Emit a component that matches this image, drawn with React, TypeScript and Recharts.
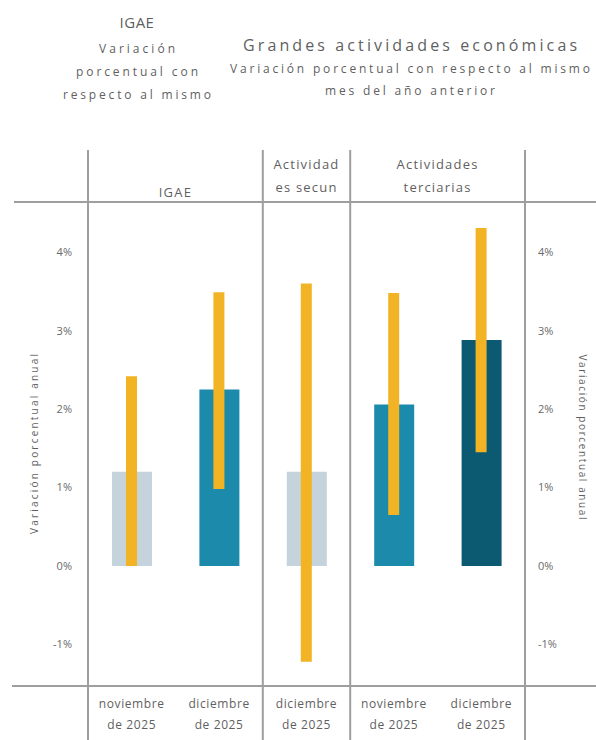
import React from 'react';
import { BarChart, Bar, XAxis, YAxis, Cell } from 'recharts';

// categories (bottom labels) and group headers
const periods = ['noviembre|de 2025', 'diciembre|de 2025', 'diciembre|de 2025', 'noviembre|de 2025', 'diciembre|de 2025'];
const groups = ['IGAE', 'Actividad|es secun', 'Actividades|terciarias'];
const groupSizes = [2, 1, 2];

// annual % change (bars) and range of the monthly series (orange)
const values = [1.2, 2.25, 1.2, 2.06, 2.88];
const rangeLow = [0.0, 0.98, -1.22, 0.65, 1.45];
const rangeHigh = [2.42, 3.49, 3.6, 3.48, 4.31];
const barColors = ['#c4d3dc', '#1b8aab', '#c4d3dc', '#1b8aab', '#0b5a72'];

const yTicks = [-1, 0, 1, 2, 3, 4];

const data = periods.map((p, i) => ({
  idx: i,
  value: values[i],
  range: [rangeLow[i], rangeHigh[i]],
}));

const W = 596;
const H = 740;
const LEFT = 88;
const RIGHT = 525;
const TOP = 202;
const BOTTOM = 686;
const FONT = '"Open Sans", sans-serif';
const GRAY = '#5f5f5f';
const LINE = '#9e9e9e';
const ORANGE = '#f2b425';

const PeriodTick = (props: any) => {
  const { x, payload } = props;
  const [a, b] = periods[payload.value].split('|');
  return (
    <g>
      <text x={x} y={BOTTOM + 22} textAnchor="middle" fontSize={12} fill={GRAY} fontFamily={FONT} letterSpacing={0.6}>{a}</text>
      <text x={x} y={BOTTOM + 43} textAnchor="middle" fontSize={12} fill={GRAY} fontFamily={FONT} letterSpacing={0.6}>{b}</text>
    </g>
  );
};

function Frame() {
  const band = (RIGHT - LEFT) / periods.length;
  let start = 0;
  const heads = groups.map((g, i) => {
    const x0 = LEFT + start * band;
    const x1 = x0 + groupSizes[i] * band;
    start += groupSizes[i];
    const lines = g.split('|');
    const cx = (x0 + x1) / 2;
    return (
      <g key={i}>
        {lines.length === 1 ? (
          <text x={cx} y={197} textAnchor="middle" fontSize={13} fill={GRAY} fontFamily={FONT} letterSpacing={1.2}>{lines[0]}</text>
        ) : (
          lines.map((t, j) => (
            <text key={j} x={cx} y={169 + j * 23} textAnchor="middle" fontSize={13} fill={GRAY} fontFamily={FONT} letterSpacing={1.2}>{t}</text>
          ))
        )}
      </g>
    );
  });
  const dividers = [LEFT, LEFT + 2 * band, LEFT + 3 * band, RIGHT];
  return (
    <svg width={W} height={H} style={{ position: 'absolute', left: 0, top: 0, pointerEvents: 'none' }}>
      {/* titles */}
      <text x={137} y={28} textAnchor="middle" fontSize={15} fill={GRAY} fontFamily={FONT} letterSpacing={0.5}>IGAE</text>
      <text x={137} y={53} textAnchor="middle" fontSize={12} fill={GRAY} fontFamily={FONT} textLength={76} lengthAdjust="spacing">Variación</text>
      <text x={137} y={76} textAnchor="middle" fontSize={12} fill={GRAY} fontFamily={FONT} textLength={122} lengthAdjust="spacing">porcentual con</text>
      <text x={137} y={99} textAnchor="middle" fontSize={12} fill={GRAY} fontFamily={FONT} textLength={148} lengthAdjust="spacing">respecto al mismo</text>
      <text x={410} y={51} textAnchor="middle" fontSize={16} fill={GRAY} fontFamily={FONT} textLength={334} lengthAdjust="spacing">Grandes actividades económicas</text>
      <text x={410} y={73} textAnchor="middle" fontSize={12} fill={GRAY} fontFamily={FONT} textLength={360} lengthAdjust="spacing">Variación porcentual con respecto al mismo</text>
      <text x={410} y={95} textAnchor="middle" fontSize={12} fill={GRAY} fontFamily={FONT} textLength={170} lengthAdjust="spacing">mes del año anterior</text>
      {/* axis titles */}
      <text transform="translate(38,444) rotate(-90)" textAnchor="middle" fontSize={10} fill={GRAY} fontFamily={FONT} textLength={180} lengthAdjust="spacing">Variación porcentual anual</text>
      <text transform="translate(579,437) rotate(90)" textAnchor="middle" fontSize={10} fill={GRAY} fontFamily={FONT} textLength={165} lengthAdjust="spacing">Variación porcentual anual</text>
      {/* frame lines */}
      <line x1={14} x2={W} y1={TOP} y2={TOP} stroke={LINE} strokeWidth={2} />
      <line x1={12} x2={W} y1={BOTTOM} y2={BOTTOM} stroke={LINE} strokeWidth={2} />
      {dividers.map((x, i) => (
        <line key={i} x1={x} x2={x} y1={150} y2={H} stroke={LINE} strokeWidth={2} />
      ))}
      {heads}
    </svg>
  );
}

export default function App() {
  return (
    <div style={{ position: 'relative', width: W, height: H, background: '#fff' }}>
      <style>{`body{margin:0}`}</style>
      <BarChart
        width={W}
        height={H}
        data={data}
        margin={{ top: TOP, bottom: 0, left: LEFT - 40, right: W - RIGHT - 40 }}
        barGap={0}
      >
        <XAxis xAxisId="main" dataKey="idx" type="category" height={H - BOTTOM} axisLine={false} tickLine={false} tickSize={0} tickMargin={0} tick={<PeriodTick />} interval={0} />
        <XAxis xAxisId="range" dataKey="idx" type="category" hide />
        <YAxis
          yAxisId="left"
          orientation="left"
          width={40}
          domain={[-1.53, 4.64]}
          allowDataOverflow
          ticks={yTicks}
          tickFormatter={(v: number) => `${v}%`}
          axisLine={false}
          tickLine={false}
          tickSize={0}
          tickMargin={16}
          tick={{ fontSize: 11, fill: '#6a6a6a', fontFamily: FONT }}
        />
        <YAxis
          yAxisId="right"
          orientation="right"
          width={40}
          domain={[-1.53, 4.64]}
          allowDataOverflow
          ticks={yTicks}
          tickFormatter={(v: number) => `${v}%`}
          axisLine={false}
          tickLine={false}
          tickSize={0}
          tickMargin={13}
          tick={{ fontSize: 11, fill: '#6a6a6a', fontFamily: FONT }}
        />
        <Bar xAxisId="main" yAxisId="left" dataKey="value" barSize={40} isAnimationActive={false}>
          {data.map((d, i) => (
            <Cell key={i} fill={barColors[i]} />
          ))}
        </Bar>
        <Bar xAxisId="range" yAxisId="right" dataKey="range" barSize={11} fill={ORANGE} isAnimationActive={false} />
      </BarChart>
      <Frame />
    </div>
  );
}
